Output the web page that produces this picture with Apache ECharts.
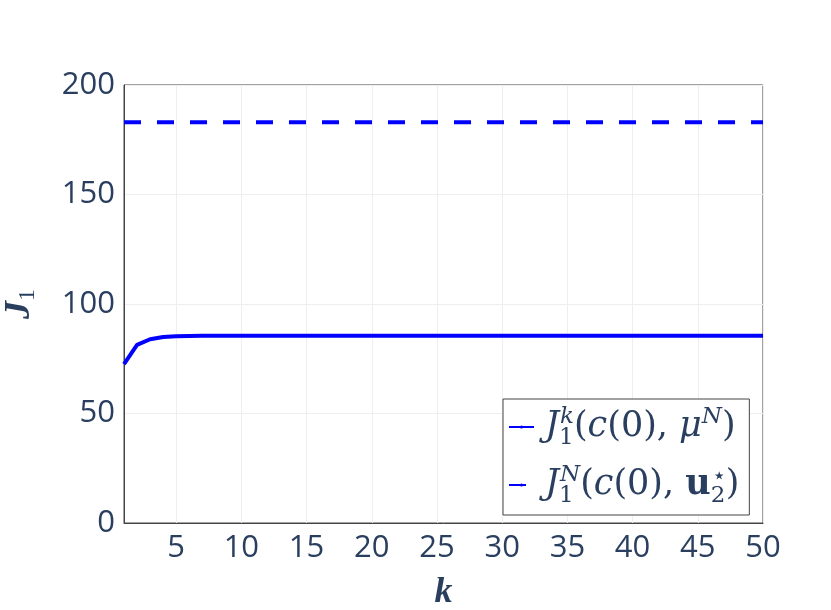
<!DOCTYPE html>
<html><head><meta charset="utf-8">
<script src="https://cdn.jsdelivr.net/npm/echarts@6/dist/echarts.min.js"></script>
<style>html,body{margin:0;padding:0;background:#fff}#c{width:831px;height:610px}</style>
</head><body><div id="c"></div>
<script>
const kValues = [];
for (let i = 1; i <= 50; i++) kValues.push(i);
const jkValues = [72.6, 81.3, 83.9, 84.9, 85.3, 85.4, 85.45, 85.5, 85.5, 85.5,
  85.5, 85.5, 85.5, 85.5, 85.5, 85.5, 85.5, 85.5, 85.5, 85.5,
  85.5, 85.5, 85.5, 85.5, 85.5, 85.5, 85.5, 85.5, 85.5, 85.5,
  85.5, 85.5, 85.5, 85.5, 85.5, 85.5, 85.5, 85.5, 85.5, 85.5,
  85.5, 85.5, 85.5, 85.5, 85.5, 85.5, 85.5, 85.5, 85.5, 85.5];
const jnValue = 183.0;
const jnValues = kValues.map(() => jnValue);
const xTicks = [5, 10, 15, 20, 25, 30, 35, 40, 45, 50];
const yTicks = [0, 50, 100, 150, 200];

const txt = '#2a3f5f';
const mathFont = 'DejaVu Serif';
const rich = {
  J: {fontFamily: mathFont, fontStyle: 'italic', fontSize: 35, color: txt, padding: [0, 0, 0, 6]},
  t: {fontFamily: mathFont, fontSize: 35, color: txt},
  i: {fontFamily: mathFont, fontStyle: 'italic', fontSize: 35, color: txt},
  sub: {fontFamily: mathFont, fontSize: 23, color: txt, padding: [23, 0, 0, 0], width: 1},
  sup: {fontFamily: mathFont, fontStyle: 'italic', fontSize: 23, color: txt, padding: [0, 0, 19, 0]},
  supn: {fontFamily: mathFont, fontSize: 23, color: txt, padding: [0, 0, 15, 0]},
  sub2: {fontFamily: mathFont, fontSize: 23, color: txt, padding: [23, 0, 0, 0], width: 1},
  b: {fontFamily: mathFont, fontWeight: 'bold', fontSize: 35, color: txt}
};
const names = ['Jk', 'JN'];
const labels = {
  Jk: '{J|J}{sub|1}{sup|k}{t|(}{i|c}{t|(0), }{i|μ}{sup|N}{t|)}',
  JN: '{J|J}{sub|1}{sup|N}{t|(}{i|c}{t|(0), }{b|u}{sub2|2}{supn|⋆}{t|)}'
};

const chart = echarts.init(document.getElementById('c'));
chart.setOption({
  animation: false,
  backgroundColor: '#fff',
  grid: {left: 124, right: 68, top: 85, bottom: 87, show: true, borderColor: '#444', borderWidth: 1,
         containLabel: false, outerBoundsMode: 'none'},
  xAxis: {
    type: 'value', min: 1, max: 50,
    name: '{k|k}', nameLocation: 'middle', nameGap: 52,
    nameTextStyle: {rich: {k: {fontFamily: 'Liberation Serif', fontStyle: 'italic', fontWeight: 'bold', fontSize: 36, color: txt}}},
    axisLine: {show: true, lineStyle: {color: '#444'}},
    axisTick: {show: false, customValues: xTicks},
    axisLabel: {customValues: xTicks, fontFamily: 'Open Sans', fontSize: 31, color: txt, margin: 10},
    splitLine: {show: true, lineStyle: {color: '#eeeeee', width: 1}}
  },
  yAxis: {
    type: 'value', min: 0, max: 200, interval: 50,
    name: '{J|J}{s|1}', nameLocation: 'middle', nameGap: 84, nameRotate: 90,
    nameTextStyle: {rich: {
      J: {fontFamily: 'Liberation Serif', fontStyle: 'italic', fontWeight: 'bold', fontSize: 36, color: txt},
      s: {fontFamily: 'Liberation Serif', fontSize: 24, color: txt, padding: [16, 0, 0, 0]}
    }},
    axisLine: {show: true, lineStyle: {color: '#444'}},
    axisTick: {show: false},
    axisLabel: {fontFamily: 'Open Sans', fontSize: 31, color: txt, margin: 9},
    splitLine: {show: true, lineStyle: {color: '#eeeeee', width: 1}}
  },
  legend: {
    left: 503, top: 399, orient: 'vertical',
    data: names,
    backgroundColor: '#fff', borderColor: '#444', borderWidth: 1,
    padding: [7, 10, 7, 5], itemGap: 14, itemWidth: 25, itemHeight: 4,
    formatter: n => labels[n],
    textStyle: {rich: rich, color: txt, fontSize: 35, padding: [0, 0, 0, 0]}
  },
  series: [
    {name: 'Jk', type: 'line', data: kValues.map((k, i) => [k, jkValues[i]]), symbol: 'none',
     lineStyle: {color: '#0000ff', width: 4}, itemStyle: {color: '#0000ff'}},
    {name: 'JN', type: 'line', data: kValues.map((k, i) => [k, jnValues[i]]), symbol: 'none',
     lineStyle: {color: '#0000ff', width: 4, type: [17, 16]}, itemStyle: {color: '#0000ff'}}
  ]
});
</script></body></html>
